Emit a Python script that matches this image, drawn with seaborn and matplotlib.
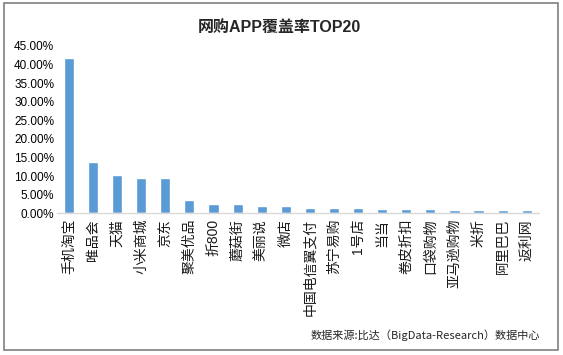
import pandas as pd
import seaborn as sns
import matplotlib.pyplot as plt
from matplotlib.ticker import PercentFormatter

apps = ['手机淘宝', '唯品会', '天猫', '小米商城', '京东', '聚美优品', '折800', '蘑菇街',
        '美丽说', '微店', '中国电信翼支付', '苏宁易购', '1号店', '当当', '卷皮折扣',
        '口袋购物', '亚马逊购物', '米折', '阿里巴巴', '返利网']
coverage = [41.7, 13.7, 10.2, 9.4, 9.4, 3.5, 2.4, 2.4, 1.9, 1.9,
            1.4, 1.4, 1.4, 1.2, 1.2, 1.2, 0.9, 0.9, 0.9, 0.9]

df = pd.DataFrame({'app': apps, 'rate': [v / 100 for v in coverage]})

sns.set_style('white')
plt.rcParams['font.family'] = ['Liberation Sans', 'Noto Sans CJK SC']

fig = plt.figure(figsize=(5.63, 3.55), dpi=100)
ax = fig.add_axes([0.101, 0.399, 0.856, 0.472])

sns.barplot(x='app', y='rate', data=df, color='#5B9BD5', saturation=1, width=0.42, ax=ax)

ax.set_ylim(0, 0.45)
ax.set_yticks([i * 0.05 for i in range(10)])
ax.yaxis.set_major_formatter(PercentFormatter(1.0, decimals=2))
ax.set_xlim(-0.5, len(apps) - 0.5)
ax.set_xlabel('')
ax.set_ylabel('')
for side in ['left', 'right', 'top']:
    ax.spines[side].set_visible(False)
ax.spines['bottom'].set_color('#D9D9D9')
ax.spines['bottom'].set_linewidth(1)
ax.tick_params(axis='y', labelsize=8.5, length=0, pad=2, labelcolor='#000000')
ax.tick_params(axis='x', length=0, pad=4)
plt.setp(ax.get_xticklabels(), rotation=90, fontsize=10, va='top', ha='center', color='#1a1a1a')

fig.text(0.497, 0.924, '网购APP覆盖率TOP20', ha='center', va='center', fontsize=11.5,
         fontweight='bold', family=['Liberation Sans', 'Noto Sans CJK SC'])
fig.text(0.96, 0.056, '数据来源:比达（BigData-Research）数据中心', ha='right', va='center',
         fontsize=8, family=['Noto Sans CJK SC'])

# outer frame
fig.patches.append(plt.Rectangle((0.0071, 0.014), 0.984, 0.9775, transform=fig.transFigure,
                                 fill=False, edgecolor='#808080', linewidth=1.2))

fig.savefig('out.png', dpi=100)
